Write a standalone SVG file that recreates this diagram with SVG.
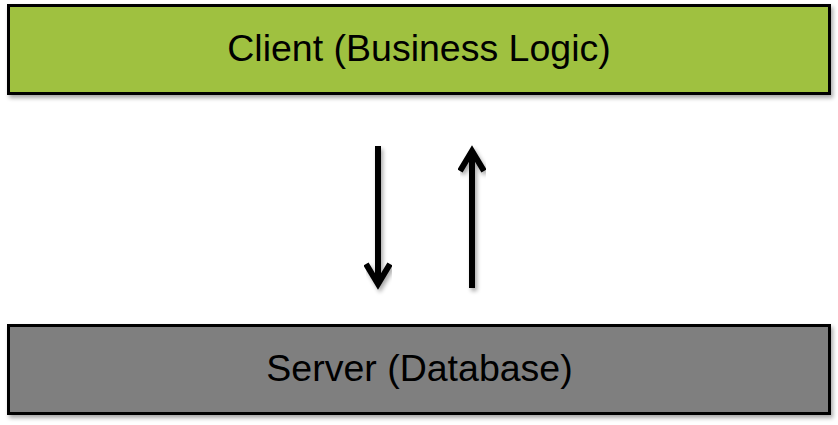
<svg xmlns="http://www.w3.org/2000/svg" width="838" height="425" viewBox="0 0 838 425">
<defs>
<filter id="sh" x="-5%" y="-20%" width="110%" height="150%">
<feGaussianBlur in="SourceAlpha" stdDeviation="2"/>
<feOffset dx="2" dy="3" result="b"/>
<feComponentTransfer><feFuncA type="linear" slope="0.35"/></feComponentTransfer>
<feMerge><feMergeNode/><feMergeNode in="SourceGraphic"/></feMerge>
</filter>
</defs>
<style>
.box{stroke:#000;stroke-width:3;filter:url(#sh)}
.lbl{font-family:"Liberation Sans",Arial,sans-serif;font-size:37.5px;fill:#000;text-anchor:middle}
.arr{stroke:#000;stroke-width:6;fill:none;stroke-linecap:butt;stroke-linejoin:miter;filter:url(#sh)}
</style>
<g id="client">
<rect class="box" x="8.5" y="5.5" width="821" height="88" fill="#9FC13F"/>
<text class="lbl" x="419" y="61">Client (Business Logic)</text>
</g>
<g id="server">
<rect class="box" x="8.5" y="325.5" width="821" height="88" fill="#7F7F7F"/>
<text class="lbl" x="419.5" y="381">Server (Database)</text>
</g>
<g id="connectors">
<path class="arr" d="M378 146 V283 M366 264 L378 284 L390 264"/>
<path class="arr" d="M472 288 V152 M460 171 L472 151 L484 171"/>
</g>
</svg>
